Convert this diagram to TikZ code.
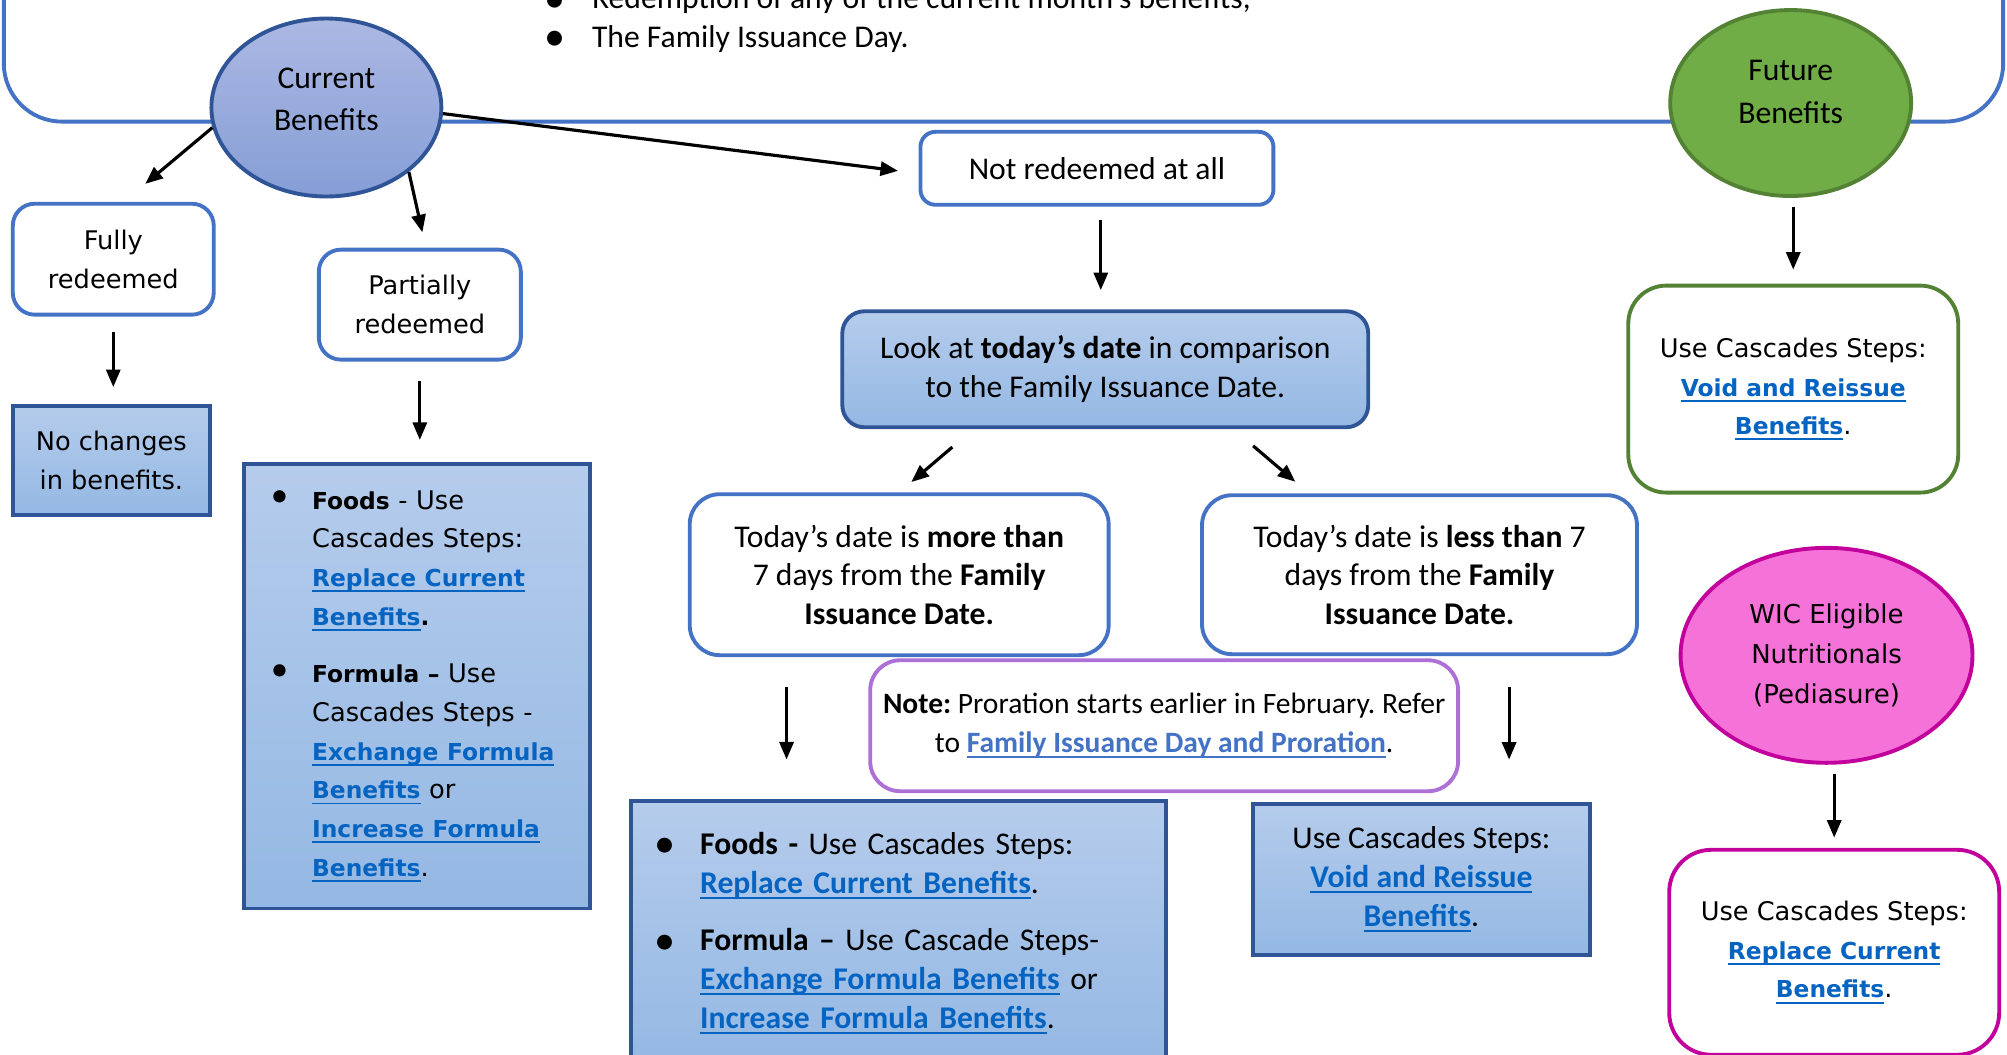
\documentclass[tikz,border=0pt]{standalone}
\usepackage{fontspec}
\setmainfont{Carlito}
\newfontfamily\verdfont{DejaVu Sans}[BoldFeatures={Scale=0.91}]
\usetikzlibrary{arrows.meta,positioning,calc,shapes.geometric}
\definecolor{frameblue}{HTML}{4472C4}
\definecolor{darkblue}{HTML}{2F5597}
\definecolor{shtop}{RGB}{181,204,236}
\definecolor{shbot}{RGB}{148,184,227}
\definecolor{curtop}{RGB}{172,184,227}
\definecolor{curbot}{RGB}{133,158,214}
\definecolor{futgreen}{HTML}{70AD47}
\definecolor{darkgreen}{HTML}{548235}
\definecolor{wicpink}{RGB}{245,114,217}
\definecolor{wicmag}{RGB}{194,0,156}
\definecolor{notepurple}{RGB}{172,112,214}
\definecolor{lnkblue}{HTML}{0563C1}
\definecolor{lnklight}{HTML}{4472C4}
\newlength\dpx
\setlength\dpx{0.0128cm}
\newcommand\hlink[2][lnkblue]{\textcolor{#1}{\bfseries\setbox0\hbox{#2}\rlap{\rule[-1.6pt]{\wd0}{0.55pt}}\box0}}
\newcommand\bul[1]{\makebox[#1][l]{\raisebox{-0.9pt}{\fontsize{12}{11}\selectfont •}}}

\begin{document}
\frenchspacing
\begin{tikzpicture}[x=0.0128cm,y=-0.0128cm]
\tikzstyle{cal}=[font=\fontsize{9}{11}\selectfont]
\tikzstyle{verd}=[font=\verdfont\fontsize{7.3}{11}\selectfont]
\tikzstyle{wbox}=[rectangle,rounded corners=0.22cm,draw=frameblue,line width=1.1pt,fill=white,align=center,inner sep=0pt]
\tikzstyle{gbox}=[rectangle,draw=darkblue,line width=1.1pt,top color=shtop,bottom color=shbot,align=center,inner sep=0pt]
\tikzstyle{bubble}=[ellipse,line width=1.1pt,align=center,inner sep=0pt]
\tikzstyle{arr}=[-{Triangle[length=5pt,width=4pt]},line width=0.9pt]

\useasboundingbox (0,0) rectangle (1568,823.5);

% top frame and its text
\draw[frameblue,line width=1.1pt,rounded corners=0.58cm] (3,-40) -- (3,95) -- (1565,95) -- (1565,-40);
\node[cal,anchor=base west,inner sep=0pt] (intro1) at (425,7) {\bul{37\dpx}Redemption of any of the current month’s benefits;};
\node[cal,anchor=base west,inner sep=0pt] (intro2) at (425,37) {\bul{37\dpx}The Family Issuance Day.};

% ellipses
\node[bubble,draw=darkblue,top color=curtop,bottom color=curbot,minimum width=2.30cm,minimum height=1.78cm,
  label={[align=center,yshift=0.08cm,font=\fontsize{9}{12}\selectfont]center:Current\\Benefits}] (cur) at (255,84) {};
\node[bubble,draw=darkgreen,fill=futgreen,minimum width=2.41cm,minimum height=1.86cm,
  label={[align=center,yshift=0.11cm,font=\fontsize{9}{12}\selectfont]center:Future\\Benefits}] (fut) at (1399,80.5) {};
\node[bubble,draw=wicmag,fill=wicpink,minimum width=2.92cm,minimum height=2.15cm,font=\verdfont\fontsize{7.4}{11.5}\selectfont] (wic) at (1427,512) {WIC Eligible\\Nutritionals\\(Pediasure)};

% current benefits branch
\node[wbox,verd,minimum width=2.01cm,minimum height=1.11cm] (full) at (88.5,202.5) {Fully\\redeemed};
\node[wbox,verd,minimum width=2.02cm,minimum height=1.10cm] (part) at (328,238) {Partially\\redeemed};
\node[wbox,cal,rounded corners=0.15cm,minimum width=3.53cm,minimum height=0.73cm] (notr) at (857,131.5) {Not redeemed at all};
\node[gbox,verd,minimum width=1.97cm,minimum height=1.09cm] (nochg) at (87,359.5) {No changes\\in benefits.};
\node[gbox,verd,align=left,text width=3.46cm,minimum height=4.45cm] (foodl) at (326,536) {%
\hspace*{18\dpx}\bul{35\dpx}\textbf{Foods} - Use\\
\hspace*{53\dpx}Cascades Steps:\\
\hspace*{53\dpx}\hlink{Replace Current}\\
\hspace*{53\dpx}\hlink{Benefits}\textbf{.}\\[15\dpx]
\hspace*{18\dpx}\bul{35\dpx}\textbf{Formula –} Use\\
\hspace*{53\dpx}Cascades Steps -\\
\hspace*{53\dpx}\hlink{Exchange Formula}\\
\hspace*{53\dpx}\hlink{Benefits} or\\
\hspace*{53\dpx}\hlink{Increase Formula}\\
\hspace*{53\dpx}\hlink{Benefits}.};

% not redeemed branch
\node[gbox,cal,rounded corners=0.22cm,minimum width=5.26cm,minimum height=1.16cm] (look) at (863.5,288.5) {Look at \textbf{today’s date} in comparison\\to the Family Issuance Date.};
\node[wbox,cal,rounded corners=0.3cm,minimum width=4.19cm,minimum height=1.61cm] (more) at (702.5,449) {Today’s date is \textbf{more than}\\7 days from the \textbf{Family}\\\textbf{Issuance Date.}};
\node[wbox,cal,rounded corners=0.3cm,minimum width=4.35cm,minimum height=1.59cm] (less) at (1109,449) {Today’s date is \textbf{less than} 7\\days from the \textbf{Family}\\\textbf{Issuance Date.}};
\node[wbox,draw=notepurple,rounded corners=0.3cm,minimum width=5.88cm,minimum height=1.31cm,font=\fontsize{8.4}{11}\selectfont] (note) at (909.5,567) {\textbf{Note:} Proration starts earlier in February. Refer\\to \hlink[lnklight]{Family Issuance Day and Proration}.};
\node[gbox,cal,align=left,text width=5.35cm,minimum height=2.64cm] (foodm) at (702,729) {%
\hspace*{18\dpx}\bul{36\dpx}\textbf{Foods -} Use Cascades Steps:\\
\hspace*{54\dpx}\hlink{Replace Current Benefits}.\\[15\dpx]
\hspace*{18\dpx}\bul{36\dpx}\textbf{Formula –} Use Cascade Steps-\\
\hspace*{54\dpx}\hlink{Exchange Formula Benefits} or\\
\hspace*{54\dpx}\hlink{Increase Formula Benefits}.};
\node[gbox,cal,minimum width=3.37cm,minimum height=1.51cm] (voidm) at (1110.5,687) {Use Cascades Steps:\\\hlink{Void and Reissue}\\\hlink{Benefits}.};

% future and WIC boxes
\node[wbox,verd,draw=darkgreen,rounded corners=0.38cm,minimum width=3.30cm,minimum height=2.07cm] (steps) at (1401,304) {Use Cascades Steps:\\\hlink{Void and Reissue}\\\hlink{Benefits}.};
\node[wbox,verd,draw=wicmag,rounded corners=0.42cm,minimum width=3.30cm,minimum height=2.05cm] (wicb) at (1433,744) {Use Cascades Steps:\\\hlink{Replace Current}\\\hlink{Benefits}.};

% arrows
\draw[arr] (cur.190) -- ($(full.north)+(25,-14)$);
\draw[arr] (cur.322) -- ($(part.north)+(2,-12)$);
\draw[arr] (cur.357) -- ($(notr.west)+(-16,2)$);
\draw[arr] ($(full.south)+(0,12)$) -- ($(full.south |- nochg.north)+(0,-13)$);
\draw[arr] ($(part.south)+(0,15)$) -- ($(part.south |- foodl.north)+(0,-17)$);
\draw[arr] ($(notr.south)+(3,10)$) -- ($(notr.south |- look.north)+(3,-15)$);
\draw[arr] ($(look.south)+(-119.5,14)$) -- ($(more.north)+(9.5,-8)$);
\draw[arr] ($(look.south)+(115.5,13)$) -- ($(less.north)+(-97,-9)$);
\draw[arr] ($(more.south)+(-88,23)$) -- ($(more.south |- foodm.north)+(-88,-31)$);
\draw[arr] ($(less.south)+(70,24)$) -- ($(less.south |- voidm.north)+(70,-33)$);
\draw[arr] ($(fut.south)+(2,7)$) -- ($(fut.south |- steps.north)+(2,-11)$);
\draw[arr] ($(wic.south)+(6,7)$) -- ($(wic.south |- wicb.north)+(6,-8)$);
\end{tikzpicture}
\end{document}
